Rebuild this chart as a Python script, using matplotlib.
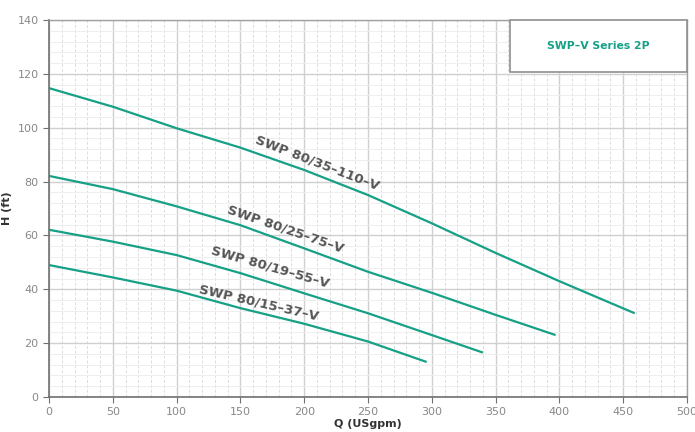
import matplotlib
matplotlib.use('Agg')
import matplotlib.pyplot as plt
from matplotlib.patches import Rectangle
from matplotlib.ticker import MultipleLocator

# Pump curves, Q (USgpm) vs H (ft)
q_110 = [0, 50, 100, 150, 200, 250, 300, 350, 400, 459]
h_110 = [114.7, 107.8, 99.8, 92.6, 84.3, 75.0, 64.5, 53.5, 43.0, 31.1]
q_75 = [0, 50, 100, 150, 200, 250, 300, 350, 397]
h_75 = [82.1, 77.2, 70.8, 63.8, 55.2, 46.5, 38.7, 30.5, 23.0]
q_55 = [0, 50, 100, 150, 200, 250, 300, 340]
h_55 = [62.1, 57.7, 52.7, 46.0, 38.5, 31.1, 23.0, 16.5]
q_37 = [0, 50, 100, 150, 200, 250, 296]
h_37 = [49.0, 44.4, 39.5, 33.0, 27.2, 20.6, 13.0]

curves = [
    ('SWP 80/35–110–V', q_110, h_110, (210.5, 86.8), -21),
    ('SWP 80/25–75–V', q_75, h_75, (185.5, 62.2), -19),
    ('SWP 80/19–55–V', q_55, h_55, (173, 48.2), -16),
    ('SWP 80/15–37–V', q_37, h_37, (164.6, 35.0), -13),
]

teal = '#16a086'

fig = plt.figure(figsize=(6.95, 4.32), dpi=100)
ax = fig.add_axes((49 / 695, 1 - 397 / 432, 638 / 695, 377 / 432))

ax.set_xlim(0, 500)
ax.set_ylim(0, 140)
ax.xaxis.set_major_locator(MultipleLocator(50))
ax.xaxis.set_minor_locator(MultipleLocator(10))
ax.yaxis.set_major_locator(MultipleLocator(20))
ax.yaxis.set_minor_locator(MultipleLocator(4))

ax.grid(which='major', color='#d0d0d0', linewidth=1.0)
ax.grid(which='minor', axis='x', color='#dcdcdc', linewidth=0.7, linestyle=(0, (3, 2)))
ax.grid(which='minor', axis='y', color='#eeeeee', linewidth=0.7)
ax.set_axisbelow(True)

for side in ['top', 'right']:
    ax.spines[side].set_color('#a0a0a0')
    ax.spines[side].set_linewidth(1.0)
for side in ['left', 'bottom']:
    ax.spines[side].set_color('#707070')
    ax.spines[side].set_linewidth(1.2)

ax.tick_params(which='major', direction='out', length=4, color='#707070',
               labelcolor='#888888', labelsize=8)
ax.tick_params(which='minor', length=0)

for name, q, h, pos, rot in curves:
    ax.plot(q, h, color=teal, linewidth=1.6, solid_capstyle='butt')
    ax.text(pos[0], pos[1], name, rotation=rot, rotation_mode='anchor',
            ha='center', va='center', fontsize=9.5, fontweight='bold',
            color='#555555')

ax.set_xlabel('Q (USgpm)', fontsize=8, fontweight='bold', color='#333333', labelpad=1)
ax.set_ylabel('H (ft)', fontsize=8, fontweight='bold', color='#333333', labelpad=4)

box = Rectangle((361, 120.7), 139, 19.3, facecolor='white', edgecolor='#909090',
                linewidth=1.2, zorder=5, clip_on=False)
ax.add_patch(box)
ax.text(430.5, 130.3, 'SWP–V Series 2P', ha='center', va='center', fontsize=7.8,
        fontweight='bold', color=teal, zorder=6)

fig.savefig('out.png', dpi=100)
